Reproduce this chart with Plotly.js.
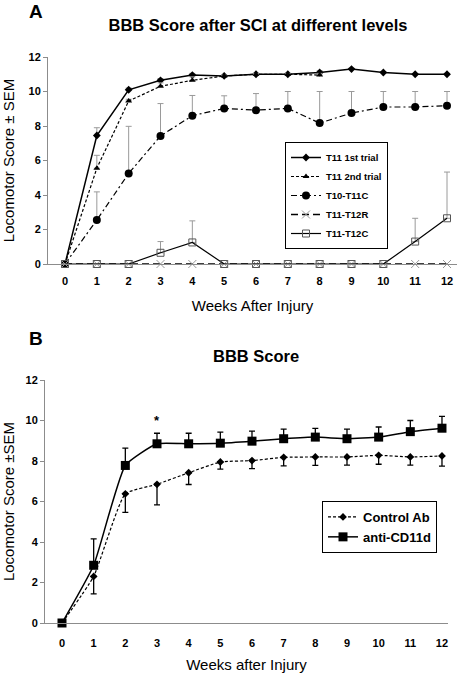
<!DOCTYPE html>
<html>
<head>
<meta charset="utf-8">
<script src="https://cdn.plot.ly/plotly-3.0.1.min.js"></script>
<style>html,body{margin:0;padding:0;background:#fff;}#chart{width:459px;height:676px;}</style>
</head>
<body>
<div id="chart"></div>
<script>
// ---- Panel A data ----
const weeks = [0,1,2,3,4,5,6,7,8,9,10,11,12];
const weeksSecond = [0,1,2,3,4,5,6,7,8];
const t11First = [0, 7.45, 10.1, 10.65, 10.95, 10.9, 11.0, 11.0, 11.1, 11.3, 11.1, 11.0, 11.0];
const t11FirstErr = [0, 0.45, 0.1, 0.1, 0.1, 0.05, 0.05, 0.05, 0.1, 0.05, 0.05, 0.05, 0.05];
const t11Second = [0, 5.55, 9.45, 10.3, 10.65, 10.9, 11.0, 11.0, 10.95];
const t11SecondErr = [0, 0.75, 0.1, 0.2, 0.2, 0.05, 0.05, 0.05, 0.1];
const t10t11c = [0, 2.55, 5.25, 7.42, 8.6, 9.02, 8.92, 9.02, 8.17, 8.75, 9.1, 9.1, 9.18];
const t10t11cErr = [0, 1.63, 2.73, 1.88, 1.17, 0.73, 0.96, 0.98, 1.83, 1.25, 0.9, 0.9, 0.82];
const t11t12r = [0,0,0,0,0,0,0,0,0,0,0,0,0];
const t11t12c = [0, 0, 0, 0.65, 1.25, 0, 0, 0, 0, 0, 0, 1.3, 2.65];
const t11t12cErr = [0, 0, 0, 0.65, 1.25, 0, 0, 0, 0, 0, 0, 1.35, 2.68];
const namesA = ["T11 1st trial", "T11 2nd trial", "T10-T11C", "T11-T12R", "T11-T12C"];

// ---- Panel B data ----
const controlAb = [0, 2.3, 6.38, 6.85, 7.42, 7.95, 8.02, 8.18, 8.2, 8.2, 8.28, 8.2, 8.25];
const controlAbErr = [0, 0.86, 0.92, 1.02, 0.58, 0.35, 0.4, 0.42, 0.42, 0.4, 0.44, 0.4, 0.5];
const antiCD11d = [0, 2.85, 7.78, 8.85, 8.85, 8.88, 8.98, 9.1, 9.18, 9.1, 9.18, 9.45, 9.62];
const antiCD11dErr = [0, 1.3, 0.86, 0.52, 0.52, 0.55, 0.5, 0.47, 0.43, 0.47, 0.5, 0.55, 0.58];
const namesB = ["Control Ab", "anti-CD11d"];
const yTicks = [0,2,4,6,8,10,12];

const W = 459, H = 676;
const FONT = "Liberation Sans, Arial, sans-serif";
const grayErr = "#9a9a9a";

function errUp(arr, color, thick) {
  return {type:'data', array: arr, arrayminus: arr.map(()=>0), symmetric:false,
          color: color, thickness: thick, width: 3};
}
function errDown(arr, color, thick) {
  return {type:'data', array: arr.map(()=>0), arrayminus: arr, symmetric:false,
          color: color, thickness: thick, width: 3};
}

const traces = [
  {x: weeks, y: t11First, name: namesA[0], mode:'lines+markers', xaxis:'x', yaxis:'y', legend:'legend',
   line:{color:'#000', width:1.5}, marker:{symbol:'diamond', size:6, color:'#000'},
   error_y: errUp(t11FirstErr, grayErr, 1), cliponaxis:false},
  {x: weeksSecond, y: t11Second, name: namesA[1], mode:'lines+markers', xaxis:'x', yaxis:'y', legend:'legend',
   line:{color:'#000', width:1.2, dash:'3px,2px'}, marker:{symbol:'triangle-up', size:6, color:'#000'},
   error_y: errUp(t11SecondErr, grayErr, 1), cliponaxis:false},
  {x: weeks, y: t10t11c, name: namesA[2], mode:'lines+markers', xaxis:'x', yaxis:'y', legend:'legend',
   line:{color:'#000', width:1.2, dash:'6px,3px,2px,3px'}, marker:{symbol:'circle', size:8, color:'#000'},
   error_y: errUp(t10t11cErr, grayErr, 1), cliponaxis:false},
  {x: weeks, y: t11t12r, name: namesA[3], mode:'lines+markers', xaxis:'x', yaxis:'y', legend:'legend',
   line:{color:'#000', width:1.5, dash:'7px,4px'}, marker:{symbol:'x-thin-open', size:8, color:'#999', line:{color:'#999', width:1}},
   cliponaxis:false},
  {x: weeks, y: t11t12c, name: namesA[4], mode:'lines+markers', xaxis:'x', yaxis:'y', legend:'legend',
   line:{color:'#000', width:1.2}, marker:{symbol:'square-open', size:7, color:'#555', line:{color:'#555', width:1}},
   error_y: errUp(t11t12cErr, grayErr, 1), cliponaxis:false},
  {x: weeks, y: controlAb, name: namesB[0], mode:'lines+markers', xaxis:'x2', yaxis:'y2', legend:'legend2',
   line:{color:'#000', width:1.2, dash:'3px,2px', shape:'spline', smoothing:0.45}, marker:{symbol:'diamond', size:6, color:'#000'},
   error_y: errDown(controlAbErr, '#000', 1.3), cliponaxis:false},
  {x: weeks, y: antiCD11d, name: namesB[1], mode:'lines+markers', xaxis:'x2', yaxis:'y2', legend:'legend2',
   line:{color:'#000', width:1.5, shape:'spline', smoothing:0.45}, marker:{symbol:'square', size:9, color:'#000'},
   error_y: errUp(antiCD11dErr, '#000', 1.3), cliponaxis:false}
];

const tickFont = {family: FONT, size: 11, color:'#000', weight: 'bold'};
const axisTitleFont = {family: FONT, size: 15, color:'#000'};

function xax(domain, range, title, tl, so) {
  return {domain: domain, range: range, showgrid:false, zeroline:false, showline:true,
          linecolor:'#8c8c8c', linewidth:1, tickmode:'array', tickvals: weeks, ticktext: weeks.map(String),
          ticks:'outside', ticklen:tl, tickcolor:'rgba(0,0,0,0)', tickfont: tickFont,
          title:{text: title, font: axisTitleFont, standoff: so}, fixedrange:true};
}
function yax(domain, anchor, title) {
  return {domain: domain, range:[0,12], anchor: anchor, showgrid:false, zeroline:false, showline:true,
          linecolor:'#8c8c8c', linewidth:1, tickmode:'array', tickvals: yTicks, ticktext: yTicks.map(String),
          ticks:'outside', ticklen:4, tickcolor:'#8c8c8c', tickfont: tickFont,
          title:{text: title, font: axisTitleFont, standoff: 10}, fixedrange:true};
}

const layout = {
  width: W, height: H,
  margin: {l:0, r:0, t:0, b:0},
  paper_bgcolor:'#fff', plot_bgcolor:'rgba(0,0,0,0)',
  font: {family: FONT, color:'#000'},
  title: {text: 'BBB Score after SCI at different levels', font:{family: FONT, size:16.5, weight:'bold', color:'#000'},
          x: 258/W, xanchor:'center', xref:'paper', y: 1-25/H, yanchor:'middle', yref:'container'},
  xaxis: Object.assign(xax([48/W, 457/W], [-0.534, 12.314], 'Weeks After Injury', 7, 14), {anchor:'y'}),
  yaxis: yax([1-264/H, 1-57/H], 'x', 'Locomotor Score ± SEM'),
  xaxis2: Object.assign(xax([45/W, 448/W], [-0.537, 12.19], 'Weeks after Injury', 10, 11), {anchor:'y2'}),
  yaxis2: yax([1-623/H, 1-380/H], 'x2', 'Locomotor Score ±SEM'),
  legend: {x: 285/W, y: 1-142/H, xanchor:'left', yanchor:'top', bgcolor:'#fff',
           bordercolor:'#000', borderwidth:1, font:{family: FONT, size:9.5, weight:'bold', color:'#000'},
           tracegroupgap:0, itemwidth:30},
  legend2: {x: 322/W, y: 1-501/H, xanchor:'left', yanchor:'top', bgcolor:'#fff',
           bordercolor:'#000', borderwidth:1, font:{family: FONT, size:13, weight:'bold', color:'#000'},
           tracegroupgap:0, itemwidth:30},
  showlegend: true,
  annotations: [
    {text:'A', xref:'paper', yref:'paper', x: 36/W, y: 1-12/H, xanchor:'center', yanchor:'middle', showarrow:false,
     font:{family: FONT, size:19, weight:'bold', color:'#000'}},
    {text:'B', xref:'paper', yref:'paper', x: 36/W, y: 1-339/H, xanchor:'center', yanchor:'middle', showarrow:false,
     font:{family: FONT, size:19, weight:'bold', color:'#000'}},
    {text:'BBB Score', xref:'paper', yref:'paper', x: 256/W, y: 1-356/H, xanchor:'center', yanchor:'middle', showarrow:false,
     font:{family: FONT, size:16.5, weight:'bold', color:'#000'}},
    {text:'*', xref:'x2', yref:'y2', x: 3, y: 10.0, xanchor:'center', yanchor:'middle', showarrow:false,
     font:{family: FONT, size:13, weight:'bold', color:'#000'}}
  ]
};

Plotly.newPlot('chart', traces, layout, {displayModeBar:false, staticPlot:true});
</script>
</body>
</html>
